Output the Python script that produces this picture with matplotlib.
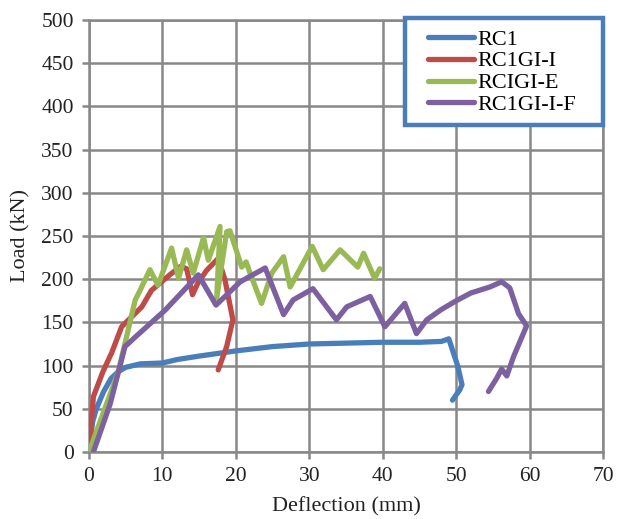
import matplotlib
matplotlib.use("Agg")
import matplotlib.pyplot as plt
from matplotlib.patches import Rectangle

# load-deflection curves (deflection in mm, load in kN)
rc1_x = [0, 0.5, 1, 2, 3, 4, 5, 7, 10, 12, 15, 20, 25, 30, 35, 40, 45, 48, 49, 50.2, 50.8, 50.5, 49.5]
rc1_y = [0, 35, 50, 70, 85, 93, 98, 102, 103, 107, 111, 117, 122, 125, 126, 127, 127, 128, 131, 100, 78, 72, 60]

gi_i_x = [0, 0.6, 1.9, 3.1, 4.45, 7.2, 8.5, 11.0, 12.5, 13.3, 14.1, 14.8, 16.0, 17.6, 18.5, 19.6, 18.75, 17.6]
gi_i_y = [0, 64, 93, 115, 145, 168, 187, 205, 215, 212, 182, 195, 210, 224, 200, 153, 122, 95]

gi_e_x = [0, 4, 6.3, 6.95, 8.3, 9.4, 11.25, 12.2, 13.3, 14.2, 15.6, 16.25, 17.85, 17.4, 18.75, 19.2,
          20.8, 21.4, 21.9, 23.5, 24.9, 26.5, 27.4, 30.4, 31.9, 34.2, 36.6, 37.4, 38.9, 39.6]
gi_e_y = [0, 93, 176, 187, 211, 193, 236, 201, 234, 207, 248, 222, 261, 178, 255, 256,
          214, 220, 208, 172, 207, 226, 191, 238, 211, 234, 214, 230, 201, 212]

gi_f_x = [0.6, 2.9, 4.9, 6.3, 10.35, 14.9, 17.3, 20.6, 24.0, 26.5, 27.8, 30.5, 33.7, 35.1, 38.3,
          40.3, 43.0, 44.6, 46.0, 48.0, 50.0, 52.0, 54.6, 56.2, 57.3, 58.5, 59.6, 59.3, 57.8,
          56.9, 56.2, 55.5, 54.4]
gi_f_y = [0, 56, 122, 133, 164, 205, 170, 197, 213, 159, 176, 189, 153, 168, 180,
          145, 172, 137, 153, 165, 175, 184, 191, 197, 190, 160, 146, 140, 110,
          88, 96, 85, 70]

labels = ["RC1", "RC1GI-I", "RCIGI-E", "RC1GI-I-F"]
colors = ["#4A7EBB", "#BE4B48", "#98B954", "#7D60A0"]
grid_col = "#888888"
text_col = "#222222"

plt.rcParams["font.family"] = ["Liberation Serif", "DejaVu Serif"]

fig = plt.figure(figsize=(6.17, 5.19), dpi=100)
ax = fig.add_axes([0.1442, 0.1291, 0.8331, 0.8324])

series = [(rc1_x, rc1_y), (gi_i_x, gi_i_y), (gi_e_x, gi_e_y), (gi_f_x, gi_f_y)]
for (xs, ys), lab, col in zip(series, labels, colors):
    ax.plot(xs, ys, color=col, lw=3.8, label=lab,
            solid_joinstyle="round", solid_capstyle="round", zorder=3)

ax.set_xlim(0, 70)
ax.set_ylim(0, 500)
ax.set_xticks(range(0, 71, 10))
ax.set_yticks(range(0, 501, 50))
ax.grid(True, color=grid_col, lw=1.8, zorder=0)
ax.set_axisbelow(True)
for sp in ax.spines.values():
    sp.set_color(grid_col)
    sp.set_linewidth(1.8)
ax.tick_params(colors=grid_col, labelcolor=text_col, labelsize=15.5,
               length=5, width=1.8, pad=6)

ax.set_xlabel("Deflection (mm)", fontsize=16, color=text_col, labelpad=8)
ax.set_ylabel("Load (kN)", fontsize=16, color=text_col, labelpad=8)

# legend box drawn separately so padding can differ horizontally / vertically
box = Rectangle((0.6148, 0.7569), 0.3852, 0.2477, transform=ax.transAxes,
                facecolor="white", edgecolor="#4A7EBB", lw=3.2,
                clip_on=False, zorder=5)
ax.add_patch(box)
leg = ax.legend(loc="upper left", bbox_to_anchor=(0.659, 0.979),
                borderaxespad=0, borderpad=0, fontsize=16, handlelength=2.1,
                handletextpad=0.15, labelspacing=0.06, frameon=False)
leg.set_zorder(6)

fig.savefig("out.png", dpi=100)
